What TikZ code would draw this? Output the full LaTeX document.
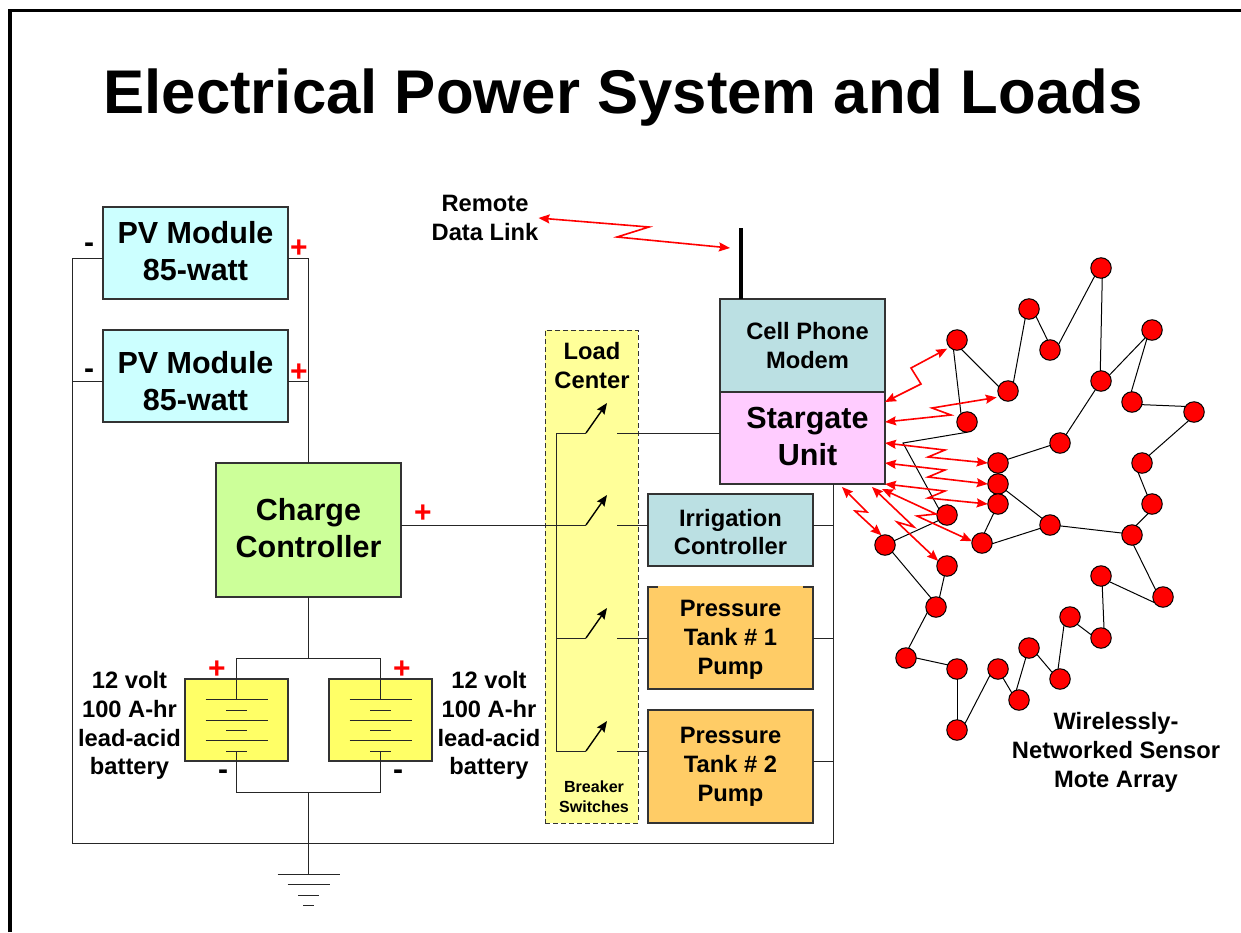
\documentclass[tikz,border=0pt]{standalone}
\usepackage{fontspec}
\setmainfont{Liberation Sans}
\usepackage{tikz}
\usepackage{xcolor}
\usetikzlibrary{arrows.meta, positioning}

\definecolor{pvcyan}{HTML}{CCFFFF}
\definecolor{loadteal}{HTML}{BBE0E3}
\definecolor{unitpink}{HTML}{FFCCFF}
\definecolor{ctrlgreen}{HTML}{CCFF99}
\definecolor{pumporange}{HTML}{FFCC66}
\definecolor{paleyellow}{HTML}{FFFF99}
\definecolor{batyellow}{HTML}{FFFF66}

\begin{document}
\begin{tikzpicture}[
  x=1pt, y=-1pt,
  bigtext/.style={font=\fontsize{30.5}{37}\selectfont\bfseries, align=center, inner sep=0pt},
  midtext/.style={font=\fontsize{23.7}{28.8}\selectfont\bfseries, align=center, inner sep=0pt},
  block/.style={rectangle, draw=black!80, line width=1.1pt, outer sep=0pt, minimum width=185pt},
  pvbox/.style={block, fill=pvcyan, minimum height=92pt},
  loadbox/.style={block, minimum width=165pt},
  batbox/.style={block, fill=batyellow, minimum width=103pt, minimum height=82pt},
  plus/.style={font=\fontsize{30}{30}\selectfont\bfseries, text=red, inner sep=0pt},
  minus/.style={font=\fontsize{30}{30}\selectfont\bfseries, inner sep=0pt},
  mote/.style={circle, draw=black, fill=red, line width=1pt, minimum size=20.5pt, inner sep=0pt, outer sep=0pt},
  wire/.style={draw=black!85, line width=1pt},
  blade/.style={draw=black, line width=1.4pt, -{Stealth[length=11pt,width=9pt,inset=1.5pt]}},
  link/.style={draw=red, line width=1.6pt, {Stealth[length=11pt,width=9pt,inset=1.5pt]}-{Stealth[length=11pt,width=9pt,inset=1.5pt]}}
]
  \useasboundingbox (0,0) rectangle (1241,932);
  \draw [black, line width=3.3pt] (10,932) -- (10,10.7) -- (1241,10.7);

  \node [font=\fontsize{61.7}{70}\selectfont\bfseries, inner sep=0pt] (title) at (623,98) {Electrical Power System and Loads};

  % power side
  \node [pvbox] (pv1) at (195.5,253) {};
  \node [pvbox, below=31pt of pv1] (pv2) {};
  \node [bigtext, yshift=2pt] (pv1text) at (pv1) {PV Module\\85-watt};
  \node [bigtext, yshift=-5pt] (pv2text) at (pv2) {PV Module\\85-watt};
  \node [block, fill=ctrlgreen, minimum height=134pt] (charge) at (308.5,530) {};
  \node [bigtext, yshift=2pt] (chargetext) at (charge) {Charge\\Controller};
  \node [batbox] (bat1) at (236.5,720) {};
  \node [batbox, right=41pt of bat1] (bat2) {};
  \node [midtext] (bat1text) at (129.5,725.5) {12 volt\\100 A-hr\\lead-acid\\battery};
  \node [midtext] (bat2text) at (489,725.5) {12 volt\\100 A-hr\\lead-acid\\battery};

  % load side
  \node [rectangle, draw=black!80, dash pattern=on 5pt off 3pt, line width=1pt, fill=paleyellow, minimum width=93pt, minimum height=493pt, outer sep=0pt] (center) at (591.5,576.5) {};
  \node [midtext] (centertext) at (592,365.5) {Load\\Center};
  \node [font=\fontsize{16.1}{20}\selectfont\bfseries, align=center, inner sep=0pt] (breaker) at (594,797) {Breaker\\Switches};
  \node [block, fill=loadteal, minimum width=165pt, minimum height=93pt] (modem) at (802.5,345.5) {};
  \node [block, fill=unitpink, minimum width=165pt, minimum height=92pt, below=0pt of modem] (stargate) {};
  \node [midtext, xshift=5pt] (modemtext) at (modem) {Cell Phone\\Modem};
  \node [bigtext, xshift=5pt, yshift=2pt] (stargatetext) at (stargate) {Stargate\\Unit};
  \node [loadbox, fill=loadteal, minimum height=72pt] (irrigation) at (730.5,530) {};
  \node [loadbox, fill=pumporange, minimum height=102pt, below=21pt of irrigation] (pump1) {};
  \node [loadbox, fill=pumporange, minimum height=113pt, below=21pt of pump1] (pump2) {};
  \draw [pumporange, line width=1.4pt] ([xshift=10pt]pump1.north west) -- ([xshift=-10pt]pump1.north east);
  \node [midtext, yshift=-2pt] (irrigationtext) at (irrigation) {Irrigation\\Controller};
  \node [midtext, yshift=-1.5pt] (pump1text) at (pump1) {Pressure\\Tank \# 1\\Pump};
  \node [midtext] (pump2text) at (pump2) {Pressure\\Tank \# 2\\Pump};

  \node [midtext] (remote) at (485,218) {Remote\\Data Link};
  \node [midtext] (array) at (1116,752.5) {Wirelessly-\\Networked Sensor\\Mote Array};

  % polarity marks
  \node [plus] (plus1) at (299,249) {+};
  \node [plus] (plus2) at (299,373) {+};
  \node [plus] (plus3) at (423,514) {+};
  \node [plus] (plus4) at (217,670) {+};
  \node [plus] (plus5) at (402,670) {+};
  \node [minus] (minus1) at (89,248) {-};
  \node [minus] (minus2) at (89,374) {-};
  \node [minus] (minus3) at (223,775) {-};
  \node [minus] (minus4) at (398,775) {-};

  % wiring
  \coordinate (returnleft) at (72,843);
  \coordinate (returnright) at (833.5,843);
  \coordinate (jointop) at (308.5,658.5);
  \coordinate (joinbot) at (308.5,792);
  \coordinate (earth) at (308.5,874);
  \coordinate (busleft) at (556,433);

  \draw [wire] ([yshift=-5pt]pv1.west) -| (returnleft) -- (returnright) -- (returnright |- stargate.south);
  \draw [wire] ([yshift=-5pt]pv2.west) -| (returnleft);
  \draw [wire] ([yshift=-5pt]pv1.east) -| (charge.north);
  \draw [wire] ([yshift=-5pt]pv2.east) -| (charge.north);
  \draw [wire] (charge.south) -- (jointop);
  \draw [wire] ([yshift=21pt]bat1.center) |- (jointop) -| ([yshift=21pt]bat2.center);
  \draw [wire] ([yshift=-31pt]bat1.center) |- (joinbot) -| ([yshift=-31pt]bat2.center);
  \draw [wire] (joinbot) -- (earth);
  \foreach \dy/\hw in {0/31, 10/21, 21/10.5, 31/5.5}
    \draw [wire] ([shift={(-\hw,\dy)}]earth) -- ([shift={(\hw,\dy)}]earth);

  \foreach \bat in {bat1, bat2} {
    \foreach \dy in {-21, 0, 20}
      \draw [wire] ([shift={(-31,\dy)}]\bat.center) -- ([shift={(31,\dy)}]\bat.center);
    \foreach \dy in {-10, 10, 31}
      \draw [wire] ([shift={(-10.5,\dy)}]\bat.center) -- ([shift={(10.5,\dy)}]\bat.center);
  }

  % breaker switches
  \foreach \sw/\y in {a/433, b/525, c/638, d/751} {
    \coordinate (sw\sw) at (586,\y);
    \coordinate (con\sw) at (617,\y);
    \draw [blade] (sw\sw) -- ++(21,-30);
  }
  \draw [wire] (swa) -- (busleft) -- (busleft |- swd) -- (swd);
  \draw [wire] (busleft |- swc) -- (swc);
  \draw [wire] (charge.east |- swb) -- (swb);
  \draw [wire] (cona) -- (stargate.west |- cona);
  \draw [wire] (conb) -- (irrigation.west |- conb);
  \draw [wire] (conc) -- (pump1.west |- conc);
  \draw [wire] (cond) -- (pump2.west |- cond);
  \draw [wire] (irrigation.east |- conb) -- (returnright |- conb);
  \draw [wire] (pump1.east |- conc) -- (returnright |- conc);
  \draw [wire] ([yshift=5.5pt]pump2.east) -- (returnright |- 0,761);

  % antenna and radio link
  \coordinate (aerial) at (modem.north -| 741,0);
  \coordinate (aerialtip) at (741,228);
  \coordinate (aerialfeed) at (730,248);
  \draw [black, line width=4pt] (aerial) -- (aerialtip);
  \draw [link] (remote.east) -- (649,227) -- (617,237) -- (aerialfeed);

  % sensor motes
  \foreach \name/\x/\y in {m1/1101/268, m2/1029/309, m3/1050/350, m4/1152/330, m5/957/340,
    m6/1008/391, m7/1101/381, m8/1132/402, m9/1194/412, m10/967/422, m11/1060/443,
    m12/998/463, m13/1142/463, m14/998/484, m15/998/504, m16/1152/504, m17/947/515,
    m18/1050/525, m19/1132/535, m20/982/543, m21/885/545, m22/947/566, m23/1101/576,
    m24/1163/597, m25/936/607, m26/1070/617, m27/1101/638, m28/1029/648, m29/906/658,
    m30/957/669, m31/998/669, m32/1060/679, m33/1019/700, m34/957/730}
    \node [mote] (\name) at (\x,\y) {};

  \foreach \a/\p/\b/\q in {m1/232/m3/33, m1/277/m7/94, m2/313/m3/104, m2/248/m6/58,
    m5/295/m6/155, m5/250/m10/126, m4/229/m7/35, m4/240/m8/94, m8/345/m9/147,
    m9/238/m13/47, m13/248/m16/118, m16/248/m19/67, m7/237/m11/54, m11/194/m12/21,
    m14/321/m18/140, m15/245/m20/77, m18/199/m20/356, m18/355/m19/169, m19/279/m24/136,
    m24/213/m23/326, m23/277/m27/73, m27/162/m26/315, m26/234/m32/101, m32/140/m28/321,
    m28/252/m33/105, m33/135/m31/299, m31/218/m34/39, m34/90/m30/270, m30/156/m29/0,
    m29/75/m25/212, m25/70/m22/255, m25/119/m21/316, m21/25/m17/213}
    \draw [black, line width=1pt] (\a.\p) -- (\b.\q);
  \coordinate (bend) at (903,443);
  \draw [black, line width=1pt] (m10.south) -- (bend) -- (m17.143);

  % radio links to the motes
  \draw [link, shorten >=3pt] ([yshift=36pt]stargate.east) -- (921,384) -- (911,368) -- (m5.225);
  \draw [link, shorten >=3pt] ([yshift=16pt]stargate.east) -- (951,415) -- (932,408) -- (m6.215);
  \draw [link] ([yshift=-5pt]stargate.east) -- (945,450) -- (928,457) -- (m12.west);
  \draw [link] ([yshift=-25pt]stargate.east) -- (945,470) -- (928,477) -- (m14.west);
  \draw [link] ([yshift=-46pt]stargate.east) -- (945,491) -- (928,498) -- (m15.west);
  \draw [link] ([xshift=-3pt,yshift=-51pt]stargate.east) -- (936,514) -- (917,516) -- (m20.170);
  \draw [link] ([xshift=-13pt,yshift=-49pt]stargate.east) -- (914,527) -- (897,522) -- (m22.150);
  \draw [link] ([xshift=-43pt,yshift=-49pt]stargate.east) -- (867,512) -- (855,511) -- (m21.110);
\end{tikzpicture}
\end{document}
